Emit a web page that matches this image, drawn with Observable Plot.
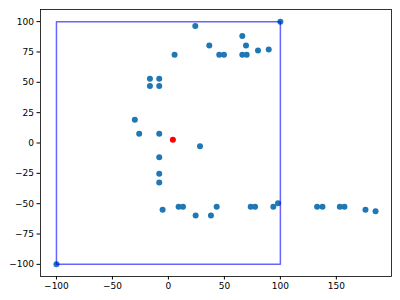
<!DOCTYPE html>
<html>
<head>
<meta charset="utf-8">
<script src="https://cdn.jsdelivr.net/npm/d3@7"></script>
<script src="https://cdn.jsdelivr.net/npm/@observablehq/plot@0.6"></script>
<style>
  html, body { margin: 0; padding: 0; background: #fff; }
</style>
</head>
<body>
<div id="chart"></div>
<script>
const xs = [24, 5.5, -16.5, -8.2, -16.5, -8.2, -30, -26.1, -8.2, 28.2,
            100, 66, 36.5, 45.4, 49.6, 66, 69.9, 69.3, 80, 89.6,
            -8.2, -8.2, -8.2, -5.2, 9.1, 13, 24.3, -100,
            38, 43.1, 73.5, 77.4, 93.7, 97.9, 132.8, 137.6, 153.1, 157.2, 176, 185];
const ys = [96.4, 72.8, 53, 53, 46.9, 46.9, 19.1, 7.6, 7.6, -2.6,
            100, 88.1, 80.4, 72.8, 72.8, 72.8, 72.8, 80.4, 76.3, 77.1,
            -11.7, -25.4, -32.6, -55.1, -52.6, -52.6, -59.8, -100,
            -59.8, -52.6, -52.6, -52.6, -52.6, -49.7, -52.6, -52.6, -52.6, -52.6, -55.1, -56.3];
const redX = [4];
const redY = [2.6];
const boxX = [-100, 100, 100, -100, -100];
const boxY = [-100, -100, 100, 100, -100];
const xTicks = [-100, -50, 0, 50, 100, 150];
const yTicks = [-100, -75, -50, -25, 0, 25, 50, 75, 100];

const points = xs.map((x, i) => ({x, y: ys[i]}));
const red = redX.map((x, i) => ({x, y: redY[i]}));
const box = boxX.map((x, i) => ({x, y: boxY[i]}));

const chart = Plot.plot({
  width: 400,
  height: 300,
  marginLeft: 40,
  marginRight: 9,
  marginTop: 9,
  marginBottom: 24,
  style: {fontFamily: "DejaVu Sans", fontSize: "9px", color: "#000", background: "#fff"},
  x: {domain: [-114.25, 199.25], ticks: xTicks, tickSize: 3.5, tickPadding: 3, label: null},
  y: {domain: [-110, 110], ticks: yTicks, tickSize: 3.5, tickPadding: 3, label: null},
  marks: [
    Plot.dot(points, {x: "x", y: "y", r: 3, fill: "#1f77b4", stroke: "none"}),
    Plot.dot(red, {x: "x", y: "y", r: 3, fill: "red", stroke: "none"}),
    Plot.line(box, {x: "x", y: "y", stroke: "blue", strokeOpacity: 0.6, strokeWidth: 1.5}),
    Plot.frame({stroke: "#000", strokeWidth: 0.8})
  ]
});
document.getElementById("chart").appendChild(chart);
</script>
</body>
</html>
